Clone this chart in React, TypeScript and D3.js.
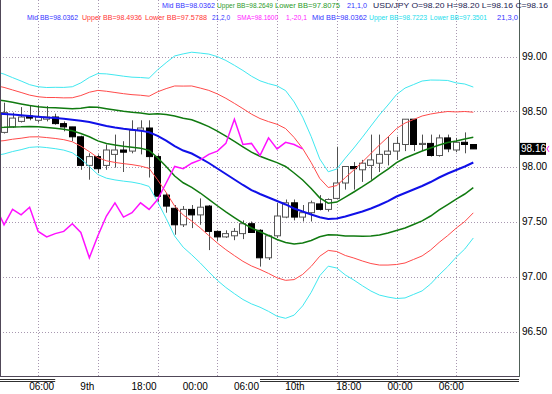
import React from 'react';
import * as d3 from 'd3';

// hourly USD/JPY bars, bar 0 sits just left of the visible area
const opens = [98.30, 98.31, 98.36, 98.41, 98.46, 98.42, 98.43, 98.45, 98.39, 98.36, 98.27, 98.01, 98.09, 98.01, 98.11, 98.15, 98.14, 98.33, 98.35, 98.09, 97.74, 97.62, 97.47, 97.61, 97.56, 97.64, 97.41, 97.36, 97.37, 97.39, 97.48, 97.42, 97.17, 97.37, 97.54, 97.67, 97.54, 97.58, 97.66, 97.61, 97.71, 97.85, 98.00, 97.97, 98.01, 98.03, 98.11, 98.14, 98.20, 98.43, 98.20, 98.21, 98.10, 98.26, 98.15, 98.22, 98.20];
const highs = [98.44, 98.58, 98.49, 98.54, 98.56, 98.56, 98.55, 98.48, 98.41, 98.36, 98.28, 98.12, 98.11, 98.20, 98.29, 98.23, 98.42, 98.42, 98.42, 98.11, 97.76, 97.65, 97.64, 97.65, 97.71, 97.65, 97.42, 97.42, 97.44, 97.51, 97.50, 97.43, 97.38, 97.67, 97.70, 97.70, 97.65, 97.69, 97.74, 97.71, 98.18, 98.00, 98.04, 98.06, 98.29, 98.29, 98.27, 98.27, 98.43, 98.43, 98.29, 98.29, 98.29, 98.29, 98.26, 98.31, 98.20];
const lows = [98.27, 98.30, 98.35, 98.40, 98.42, 98.40, 98.41, 98.38, 98.32, 98.23, 97.97, 97.88, 97.94, 97.97, 97.99, 97.95, 98.12, 98.11, 97.90, 97.68, 97.58, 97.38, 97.45, 97.44, 97.47, 97.24, 97.32, 97.35, 97.33, 97.34, 97.40, 97.09, 97.15, 97.35, 97.53, 97.51, 97.50, 97.50, 97.60, 97.59, 97.70, 97.79, 97.79, 97.86, 97.88, 97.95, 98.01, 98.06, 98.14, 98.14, 98.14, 98.09, 98.09, 98.13, 98.13, 98.12, 98.16];
const closes = [98.33, 98.49, 98.44, 98.45, 98.44, 98.45, 98.45, 98.39, 98.36, 98.27, 98.01, 98.09, 97.98, 98.15, 98.15, 98.13, 98.33, 98.35, 98.09, 97.73, 97.64, 97.47, 97.61, 97.56, 97.63, 97.41, 97.36, 97.39, 97.41, 97.48, 97.40, 97.17, 97.37, 97.55, 97.67, 97.54, 97.58, 97.67, 97.61, 97.70, 97.85, 98.00, 97.98, 98.03, 98.06, 98.11, 98.14, 98.21, 98.43, 98.20, 98.21, 98.10, 98.26, 98.16, 98.22, 98.20, 98.16];

// Bollinger(21) middle line and one standard deviation, read per bar
const bbMid = [98.482, 98.477, 98.472, 98.465, 98.459, 98.452, 98.445, 98.441, 98.434, 98.425, 98.415, 98.405, 98.386, 98.368, 98.355, 98.344, 98.335, 98.326, 98.311, 98.279, 98.236, 98.186, 98.145, 98.118, 98.077, 98.032, 97.982, 97.932, 97.882, 97.832, 97.786, 97.75, 97.718, 97.686, 97.655, 97.618, 97.591, 97.564, 97.538, 97.523, 97.527, 97.545, 97.568, 97.591, 97.618, 97.65, 97.686, 97.727, 97.759, 97.791, 97.823, 97.859, 97.9, 97.936, 97.968, 98.0, 98.0362];
const bbDev = [0.127, 0.121, 0.112, 0.104, 0.095, 0.091, 0.091, 0.093, 0.095, 0.100, 0.115, 0.135, 0.153, 0.158, 0.159, 0.159, 0.159, 0.161, 0.164, 0.200, 0.236, 0.273, 0.293, 0.307, 0.318, 0.330, 0.339, 0.344, 0.346, 0.347, 0.345, 0.343, 0.345, 0.349, 0.345, 0.323, 0.286, 0.236, 0.177, 0.143, 0.150, 0.177, 0.200, 0.225, 0.250, 0.273, 0.291, 0.309, 0.318, 0.318, 0.318, 0.309, 0.295, 0.282, 0.264, 0.250, 0.2287];
const bandDevs = [1, 2, 3];
const smaShift = 20;

const priceTicks = [96.5, 97.0, 97.5, 98.0, 98.5, 99.0];
const gridBars = [5, 12, 19, 26, 33, 40, 47, 54];
const timeLabels = ['06:00', '9th', '18:00', '00:00', '06:00', '10th', '18:00', '00:00', '06:00'];
const timeLabelBars = [5, 11, 17, 23, 29, 35, 41, 47, 53];
const dayBreaks = [7, 31];
const lastPrice = '98.16';

const header1 = [
  {t: 'Mid BB=98.0362', c: '#3434ff'},
  {t: 'Upper BB=98.2649', c: '#2a9a2a'},
  {t: 'Lower BB=97.8075', c: '#2a9a2a'},
  {t: '21,1,0', c: '#3434ff'},
  {t: 'USD/JPY O=98.20 H=98.20 L=98.16 C=98.16', c: '#1a1a50'},
];
const header2 = [
  {t: 'Mid BB=98.0362', c: '#3434ff'},
  {t: 'Upper BB=98.4936', c: '#ff3434'},
  {t: 'Lower BB=97.5788', c: '#ff3434'},
  {t: '21,2,0', c: '#3434ff'},
  {t: 'SMA=98.1600', c: '#ff20ff'},
  {t: '1,-20,1', c: '#ff20ff'},
  {t: 'Mid BB=98.0362', c: '#3434ff'},
  {t: 'Upper BB=98.7223', c: '#20dcec'},
  {t: 'Lower BB=97.3501', c: '#20dcec'},
  {t: '21,3,0', c: '#3434ff'},
];
// left edge and width of each header piece
const header1Pos = [[162, 53], [217, 56], [275, 65], [347, 20], [373, 175]];
const header2Pos = [[27, 51], [82, 60], [145, 62], [212, 18], [237, 41], [286, 21], [312, 55], [369, 58], [430, 57], [497, 21]];

const W = 552, H = 394;
const plotRight = 519, plotBottom = 376;

const App = () => {
  const x = d3.scaleLinear().domain([0, closes.length - 1]).range([-4.5, 473.3]);
  const y = d3.scaleLinear().domain([96.5, 99]).range([331.5, 56.5]);
  const bodyW = 7;

  const line = d3.line<number>().x((d, i) => x(i)).y(d => y(d));
  const smaData = closes.slice(smaShift);

  const bandColor = {1: '#107a10', 2: '#ff4a4a', 3: '#40e8f0'};
  const bandWidth = {1: 1.5, 2: 1, 3: 1};

  const font = '"Liberation Sans", Arial, sans-serif';

  return (
    <svg width={W} height={H} style={{position: 'absolute', left: 0, top: 0, background: '#fff'}}>
      <defs>
        <clipPath id="plot">
          <rect x={0} y={0} width={plotRight} height={plotBottom} />
        </clipPath>
      </defs>
      <rect x={0} y={0} width={W} height={H} fill="#fff" />

      {/* grid */}
      {priceTicks.map(p => (
        <line key={'h' + p} x1={0} x2={plotRight} y1={Math.round(y(p)) + 0.5} y2={Math.round(y(p)) + 0.5}
          stroke="#a898b0" strokeDasharray="1,2" />
      ))}
      {gridBars.map(b => (
        <line key={'v' + b} x1={Math.round(x(b)) + 0.5} x2={Math.round(x(b)) + 0.5} y1={0} y2={plotBottom}
          stroke="#a898b0" strokeDasharray="1,2" />
      ))}

      <g clipPath="url(#plot)">
        {/* candles */}
        {closes.map((c, i) => {
          const o = opens[i];
          const up = c >= o;
          const cx = Math.round(x(i)) + 0.5;
          const top = y(Math.max(o, c));
          const bot = y(Math.min(o, c));
          return (
            <g key={'c' + i}>
              <line x1={cx} x2={cx} y1={y(highs[i])} y2={y(lows[i])} stroke="#505050" />
              <rect x={Math.round(x(i) - bodyW / 2) + 0.5} y={top} width={bodyW - 1}
                height={Math.max(bot - top, 1)} fill={up ? '#fff' : '#000'} stroke={up ? '#555' : '#000'} />
            </g>
          );
        })}

        {/* Bollinger bands */}
        {bandDevs.map(k => (
          <g key={'b' + k}>
            <path d={line(bbMid.map((m, i) => m + k * bbDev[i])) || ''} fill="none"
              stroke={bandColor[k]} strokeWidth={bandWidth[k]} />
            <path d={line(bbMid.map((m, i) => m - k * bbDev[i])) || ''} fill="none"
              stroke={bandColor[k]} strokeWidth={bandWidth[k]} />
          </g>
        ))}
        <path d={line(bbMid) || ''} fill="none" stroke="#1010e8" strokeWidth={2} />

        {/* SMA(1) shifted back 20 bars */}
        <path d={line(smaData) || ''} fill="none" stroke="#ff10ff" strokeWidth={1.5} />
      </g>

      {/* borders */}
      <line x1={0.5} x2={0.5} y1={0} y2={plotBottom} stroke="#504858" />
      <line x1={0} x2={plotRight} y1={plotBottom + 0.5} y2={plotBottom + 0.5} stroke="#504858" />
      <line x1={plotRight + 0.5} x2={plotRight + 0.5} y1={0} y2={plotBottom + 1} stroke="#506058" />

      {/* day markers under the axis */}
      {[[0, x(dayBreaks[0])], [x(dayBreaks[1]), plotRight]].map(([a, b], i) => (
        <g key={'d' + i}>
          <line x1={a} x2={b} y1={379.5} y2={379.5} stroke="#303030" />
          <line x1={a} x2={b} y1={381.5} y2={381.5} stroke="#303030" />
        </g>
      ))}

      {/* price axis */}
      {priceTicks.map(p => (
        <text key={'t' + p} x={522} y={y(p) + 3.5} fontFamily={font} fontSize={10} fill="#000">
          {p.toFixed(2)}
        </text>
      ))}
      <rect x={520} y={y(+lastPrice) - 6} width={26} height={12} fill="#000" />
      <text x={521} y={y(+lastPrice) + 3.5} fontFamily={font} fontSize={10} fill="#fff">{lastPrice}</text>
      <path d={`M549,${y(+lastPrice) - 3}L547,${y(+lastPrice)}L549,${y(+lastPrice) + 3}`} fill="none" stroke="#ff10ff" />

      {/* time axis */}
      {timeLabels.map((t, i) => (
        <text key={'x' + i} x={x(timeLabelBars[i]) - 9} y={390} fontFamily={font} fontSize={10} fill="#000">{t}</text>
      ))}

      {/* header */}
      {header1.map((s, i) => (
        <text key={'h1' + i} x={header1Pos[i][0]} y={8} textLength={header1Pos[i][1]} lengthAdjust="spacingAndGlyphs"
          fontFamily={font} fontSize={7.2} fill={s.c}>{s.t}</text>
      ))}
      {header2.map((s, i) => (
        <text key={'h2' + i} x={header2Pos[i][0]} y={20} textLength={header2Pos[i][1]} lengthAdjust="spacingAndGlyphs"
          fontFamily={font} fontSize={7.2} fill={s.c}>{s.t}</text>
      ))}
    </svg>
  );
};

export default App;
